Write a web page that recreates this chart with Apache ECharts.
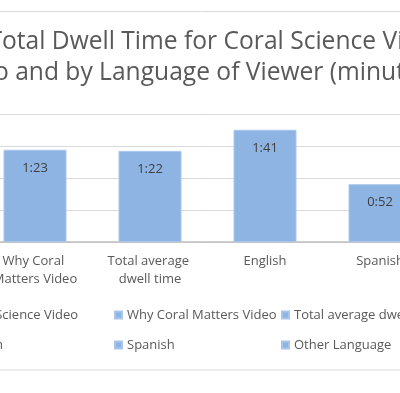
<!DOCTYPE html>
<html><head><meta charset="utf-8">
<script src="https://cdn.jsdelivr.net/npm/echarts@6/dist/echarts.min.js"></script>
<style>html,body{margin:0;padding:0;width:400px;height:393px;overflow:hidden;background:#fff;position:relative}
#c{position:absolute;left:-200px;top:0;width:800px;height:393px}</style>
</head><body><div id="c"></div>
<script>
const titleLines = ['Average Total Dwell Time for Coral Science Videos by', 'Video and by Language of Viewer (minutes)'];
const categories = ['Coral Science Video', 'Why Coral Matters Video', 'Total average dwell time', 'English', 'Spanish', 'Other Language'];
const dwellSeconds = [81, 83, 82, 101, 52, 65];
const axisMax = 115.2;
const axisStep = 28.8;
// legend columns (Excel lays the legend out in three columns)
const legendColumns = [
  ['Coral Science Video', 'English'],
  ['Why Coral Matters Video', 'Spanish'],
  ['Total average dwell time', 'Other Language']
];

const FONT = 'Open Sans';
const GREY = '#595959';
const fmt = s => { const m = Math.floor(s / 60), r = Math.round(s - m * 60); return m + ':' + String(r).padStart(2, '0'); };

const chart = echarts.init(document.getElementById('c'), null, {renderer: 'canvas'});
chart.setOption({
  animation: false,
  textStyle: {fontFamily: FONT},
  title: {
    text: titleLines.join('\n'), left: 391, top: 26, textAlign: 'center', padding: 0,
    textStyle: {fontFamily: FONT, fontSize: 24.6, fontWeight: 'normal', color: GREY, lineHeight: 31}
  },
  graphic: [{type: 'rect', shape: {x: 10.5, y: 11.5, width: 780, height: 358.5}, style: {fill: null, stroke: '#D9D9D9', lineWidth: 1}, silent: true}],
  legend: legendColumns.map((col, k) => ({
    data: col, orient: 'vertical', left: -53 + 200 + k * 167, top: 305, padding: 0, itemGap: 10,
    itemWidth: 7, itemHeight: 7, icon: 'rect',
    textStyle: {fontFamily: FONT, fontSize: 13, color: GREY, lineHeight: 20}
  })),
  grid: {left: 62.5, width: 690, top: 114, bottom: 151, containLabel: false},
  xAxis: {
    type: 'category', data: categories,
    axisTick: {show: false},
    axisLine: {lineStyle: {color: '#BFBFBF', width: 1.5}},
    axisLabel: {color: GREY, fontSize: 13, fontFamily: FONT, width: 100, overflow: 'break', lineHeight: 18, margin: 10, interval: 0}
  },
  yAxis: {
    type: 'value', min: 0, max: axisMax, interval: axisStep,
    axisLabel: {formatter: fmt, color: GREY},
    splitLine: {lineStyle: {color: '#D9D9D9'}}
  },
  series: categories.map((name, i) => ({
    name, type: 'bar', stack: 'all', barWidth: 63,
    data: dwellSeconds.map((v, j) => j === i ? v : '-'),
    itemStyle: {color: '#8DB4E2', borderColor: '#A9C6EA', borderWidth: 1},
    label: {show: true, position: 'insideTop', distance: 12, fontSize: 13, fontFamily: FONT, color: '#404040', formatter: p => fmt(p.value)}
  }))
});
</script></body></html>
